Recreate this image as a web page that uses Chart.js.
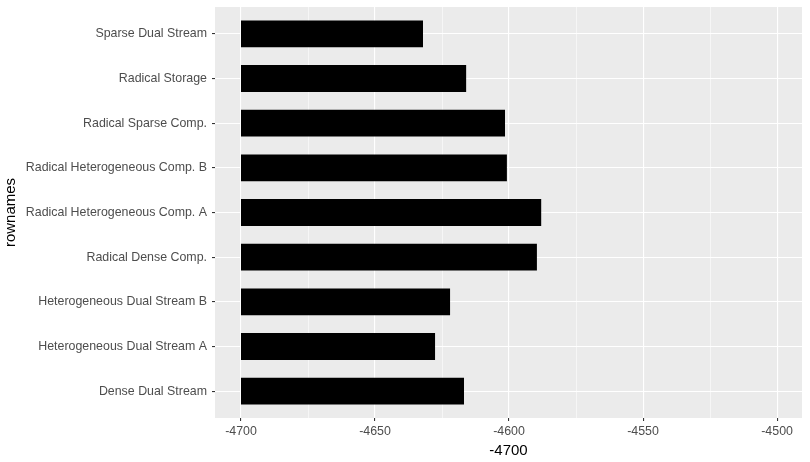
<!DOCTYPE html>
<html>
<head>
<title>rownames bar chart</title>
<script src="https://cdn.jsdelivr.net/npm/chart.js"></script>
<style>
  html, body { margin: 0; padding: 0; background: #fff; }
  #wrap { width: 810px; height: 462px; }
</style>
</head>
<body>
<div id="wrap"><canvas id="rownamesChart" width="810" height="462"></canvas></div>
<script>
// categories, bottom to top (ggplot factor order)
const rownames = [
  'Dense Dual Stream',
  'Heterogeneous Dual Stream A',
  'Heterogeneous Dual Stream B',
  'Radical Dense Comp.',
  'Radical Heterogeneous Comp. A',
  'Radical Heterogeneous Comp. B',
  'Radical Sparse Comp.',
  'Radical Storage',
  'Sparse Dual Stream'
];
const values = [-4616.8, -4627.6, -4622, -4589.6, -4588, -4600.8, -4601.5, -4616, -4632.1];
const barBase = -4700;
const xTicks = [-4700, -4675, -4650, -4625, -4600, -4575, -4550, -4525, -4500];
const xLabels = ['-4700', '', '-4650', '', '-4600', '', '-4550', '', '-4500'];

const font = 'Liberation Sans, Arial, sans-serif';

const panelBg = {
  id: 'panelBg',
  beforeDraw(chart) {
    const a = chart.chartArea, c = chart.ctx;
    c.save();
    c.fillStyle = '#EBEBEB';
    c.fillRect(a.left, a.top, a.right - a.left, a.bottom - a.top);
    c.restore();
  }
};

const ctx = document.getElementById('rownamesChart').getContext('2d');
new Chart(ctx, {
  type: 'bar',
  data: {
    datasets: [{
      data: values.map((v, i) => ({ x: [barBase, v], y: i })),
      backgroundColor: '#000000',
      borderWidth: 0,
      barPercentage: 0.6,
      categoryPercentage: 1
    }]
  },
  plugins: [panelBg],
  options: {
    indexAxis: 'y',
    responsive: false,
    animation: false,
    layout: { padding: { top: 7, right: 8, left: 0, bottom: 0 } },
    plugins: { legend: { display: false }, tooltip: { enabled: false } },
    scales: {
      x: {
        type: 'linear',
        min: -4709.7,
        max: -4490.7,
        afterBuildTicks: (s) => { s.ticks = xTicks.map(v => ({ value: v })); },
        afterFit: (s) => { s.height = 44; },
        border: { display: false },
        grid: {
          color: '#FFFFFF',
          lineWidth: (c) => (c.index % 2 === 0 ? 1.1 : 0.55),
          tickColor: (c) => (c.index % 2 === 0 ? '#333333' : 'rgba(0,0,0,0)'),
          tickLength: 3
        },
        ticks: {
          color: '#4D4D4D',
          font: { family: font, size: 12.4 },
          padding: 3,
          maxRotation: 0,
          autoSkip: false,
          callback: (v, i) => xLabels[i]
        },
        title: {
          display: true,
          text: String(barBase),
          color: '#000000',
          font: { family: font, size: 15 },
          padding: { top: 0, bottom: 2 }
        }
      },
      y: {
        type: 'linear',
        min: -0.6,
        max: 8.6,
        offset: false,
        afterBuildTicks: (s) => { s.ticks = rownames.map((_, i) => ({ value: i })); },
        afterFit: (s) => { s.width = 215; s.paddingTop = 0; s.paddingBottom = 0; },
        border: { display: false },
        grid: {
          offset: false,
          color: '#FFFFFF',
          lineWidth: 1.1,
          tickColor: '#333333',
          tickLength: 3
        },
        ticks: {
          color: '#4D4D4D',
          font: { family: font, size: 12.4 },
          padding: 5,
          autoSkip: false,
          callback: (v) => rownames[v]
        },
        title: {
          display: true,
          text: 'rownames',
          color: '#000000',
          font: { family: font, size: 15 },
          padding: { top: 2, bottom: 0 }
        }
      }
    }
  }
});
</script>
</body>
</html>
